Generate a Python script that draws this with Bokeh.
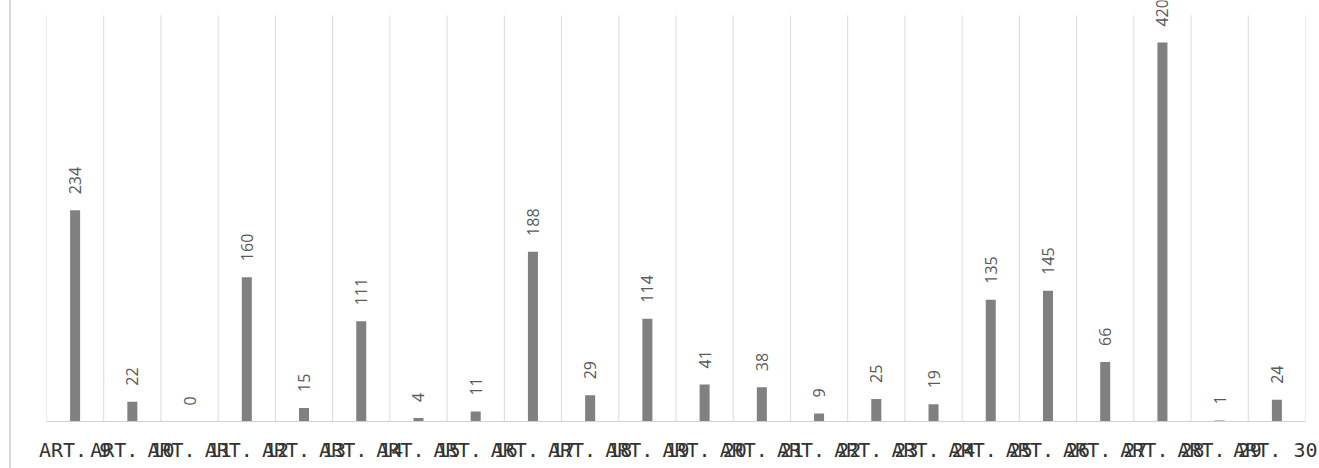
import math
from bokeh.plotting import figure
from bokeh.models import ColumnDataSource, Range1d, FixedTicker, LabelSet
from bokeh.embed import file_html
from bokeh.resources import INLINE
from bokeh.core.properties import value

# ---- data ----
articles = ["ART. 9", "ART. 10", "ART. 11", "ART. 12", "ART. 13", "ART. 14",
            "ART. 15", "ART. 16", "ART. 17", "ART. 18", "ART. 19", "ART. 20",
            "ART. 21", "ART. 22", "ART. 23", "ART. 24", "ART. 25", "ART. 26",
            "ART. 27", "ART. 28", "ART. 29", "ART. 30"]
counts = [234, 22, 0, 160, 15, 111, 4, 11, 188, 29, 114, 41, 38, 9, 25, 19,
          135, 145, 66, 420, 1, 24]
axis_max = 450      # top of the gridlines
view_max = 466.6    # visible top of the canvas (label of the tallest bar overflows)

idx = list(range(len(articles)))
src = ColumnDataSource(dict(x=idx, v=counts, lab=[str(c) for c in counts]))
bounds = [i - 0.5 for i in range(len(articles) + 1)]

p = figure(width=1308, height=468, output_backend="svg", toolbar_location=None,
           x_range=Range1d(-0.5, len(articles) - 0.5),
           y_range=Range1d(0, view_max),
           min_border_left=35, min_border_right=14, min_border_top=0,
           min_border_bottom=47, outline_line_color=None)
p.margin = (0, 0, 0, 9)
p.styles = {"border-left": "2px solid #d9d9d9"}

p.segment(x0=bounds, y0=[0] * len(bounds), x1=bounds,
          y1=[axis_max] * len(bounds), line_color="#d9d9d9", line_width=1)
p.vbar(x="x", top="v", width=0.175, source=src, fill_color="#808080",
       line_color=None)
labels = LabelSet(x="x", y="v", text="lab", source=src, angle=math.pi / 2,
                  text_align="left", text_baseline="middle", y_offset=16,
                  text_font=value("Open Sans"), text_font_size="16px",
                  text_color="#595959")
p.add_layout(labels)

p.yaxis.visible = False
p.ygrid.grid_line_color = None
p.xgrid.grid_line_color = None

ax = p.xaxis[0]
ax.ticker = FixedTicker(ticks=idx)
ax.major_label_overrides = {i: a for i, a in zip(idx, articles)}
ax.major_tick_line_color = None
ax.minor_tick_line_color = None
ax.axis_line_color = "#d0d0d0"
ax.major_label_text_font = "DejaVu Sans Mono"
ax.major_label_text_font_size = "20px"
ax.major_label_text_color = "#333333"
ax.major_label_standoff = 10

open("out.html", "w").write(file_html(p, INLINE))
